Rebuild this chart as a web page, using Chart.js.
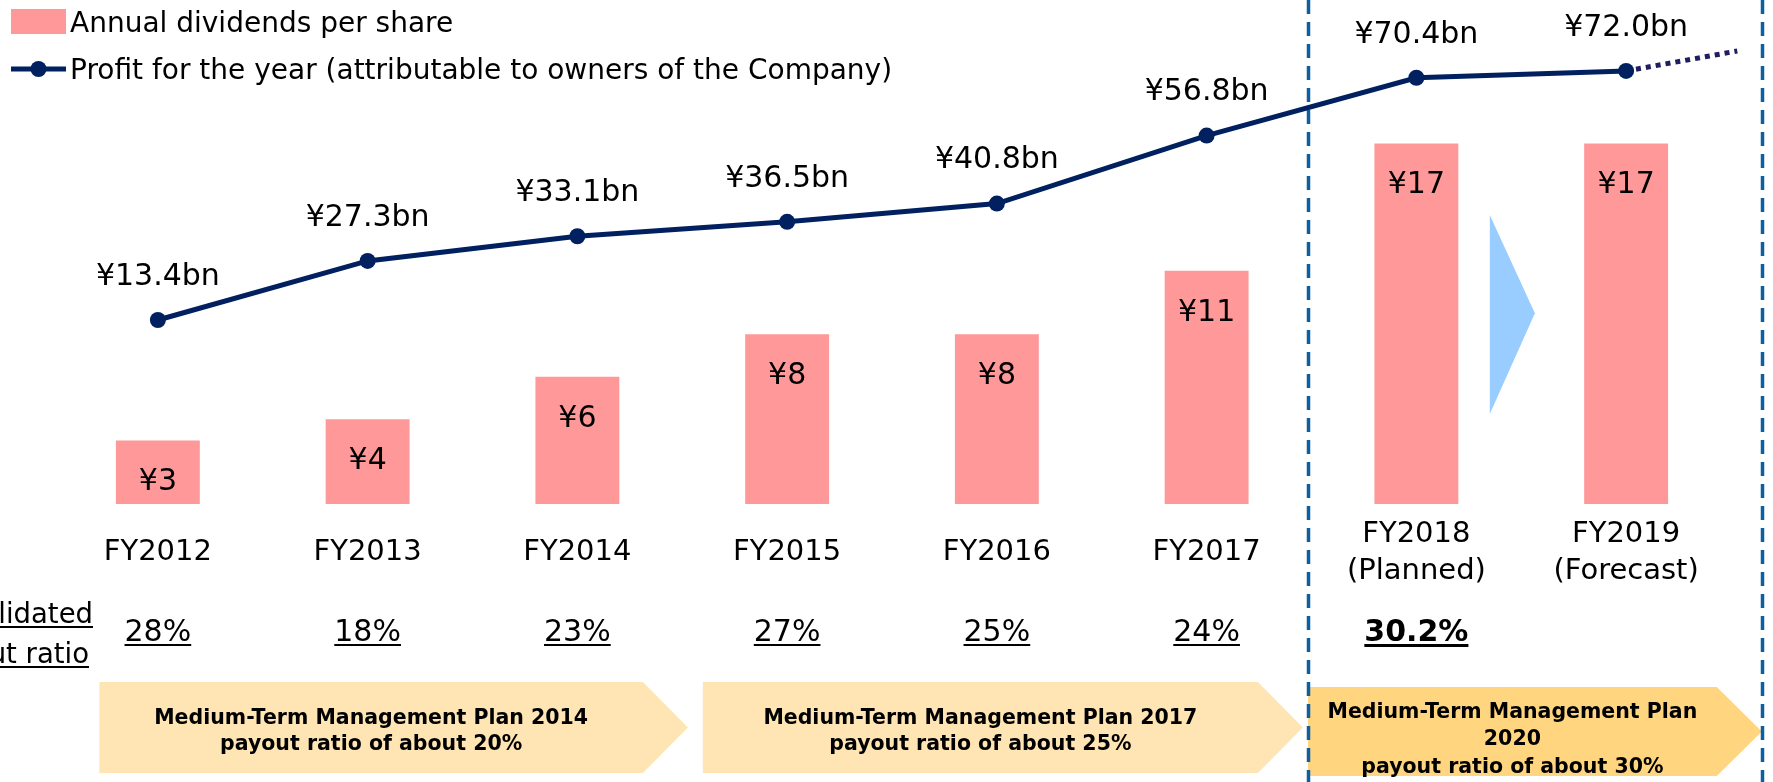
<!DOCTYPE html>
<html>
<head>
<meta charset="utf-8">
<script src="https://cdn.jsdelivr.net/npm/chart.js@4/dist/chart.umd.min.js"></script>
<style>
  html, body { margin: 0; padding: 0; background: #fff; }
  #wrap { width: 1773px; height: 782px; position: relative; }
</style>
</head>
<body>
<div id="wrap"><canvas id="c" width="1773" height="782"></canvas></div>
<script>
// ---- data ----
const categories = ['FY2012', 'FY2013', 'FY2014', 'FY2015', 'FY2016', 'FY2017', ['FY2018', '(Planned)'], ['FY2019', '(Forecast)']];
const dividendsPerShare = [3, 4, 6, 8, 8, 11, 17, 17];
const profitBn = [13.4, 27.3, 33.1, 36.5, 40.8, 56.8, 70.4, 72.0];
const profitTrend = [{ x: 7, y: 72.0 }, { x: 7.53, y: 76.7 }];
const payoutRatios = ['28%', '18%', '23%', '27%', '25%', '24%', '30.2%', null];
const payoutBold = [false, false, false, false, false, false, true, false];
const payoutTitle = ['Consolidated', 'payout ratio'];
const planTexts = [
  ['Medium-Term Management Plan 2014', 'payout ratio of about 20%'],
  ['Medium-Term Management Plan 2017', 'payout ratio of about 25%'],
  ['Medium-Term Management Plan', '2020', 'payout ratio of about 30%']
];
const seriesNames = ['Annual dividends per share', 'Profit for the year (attributable to owners of the Company)'];

// ---- styles ----
const FONT = '"DejaVu Sans", Verdana, sans-serif';
const NAVY = '#002060';
const PINK = '#FF9999';

const planGeom = [
  { from: -0.279, tip: 2.527, top: 682, bottom: 773, color: '#FFE5B3', lh: 26, dy: 4.5 },
  { from: 2.598, tip: 5.459, top: 682, bottom: 773, color: '#FFE5B3', lh: 26, dy: 4.5 },
  { from: 5.483, tip: 7.647, top: 687, bottom: 776, color: '#FFD57F', lh: 27.5, dy: 8.5 }
];

const decorPlugin = {
  id: 'decor',
  beforeDatasetsDraw(chart) {
    const ctx = chart.ctx;
    const xs = chart.scales.xTrend;
    const yd = chart.scales.yDiv;
    ctx.save();
    // plan banners
    planGeom.forEach((g, i) => {
      const l = xs.getPixelForValue(g.from);
      const t = xs.getPixelForValue(g.tip);
      const depth = 45;
      ctx.fillStyle = g.color;
      ctx.beginPath();
      ctx.moveTo(l, g.top);
      ctx.lineTo(t - depth, g.top);
      ctx.lineTo(t, (g.top + g.bottom) / 2);
      ctx.lineTo(t - depth, g.bottom);
      ctx.lineTo(l, g.bottom);
      ctx.closePath();
      ctx.fill();
      const lines = planTexts[i];
      ctx.fillStyle = '#000';
      ctx.font = 'bold 20.5px ' + FONT;
      ctx.textAlign = 'center';
      ctx.textBaseline = 'middle';
      const cx = (l + t - depth) / 2;
      const cy = (g.top + g.bottom) / 2 + g.dy;
      lines.forEach((s, k) => {
        ctx.fillText(s, cx, cy + (k - (lines.length - 1) / 2) * g.lh);
      });
    });
    // dashed separators
    ctx.strokeStyle = '#0C60A2';
    ctx.lineWidth = 3.5;
    ctx.setLineDash([14, 8]);
    [5.483, 7.647].forEach(v => {
      const x = Math.round(xs.getPixelForValue(v)) + 0.5;
      ctx.beginPath();
      ctx.moveTo(x, 0);
      ctx.lineTo(x, 782);
      ctx.stroke();
    });
    ctx.setLineDash([]);
    // blue arrow triangle between FY2018 and FY2019
    ctx.fillStyle = '#99CCFF';
    ctx.beginPath();
    ctx.moveTo(xs.getPixelForValue(6.35), yd.getPixelForValue(13.63));
    ctx.lineTo(xs.getPixelForValue(6.565), yd.getPixelForValue(9.0));
    ctx.lineTo(xs.getPixelForValue(6.35), yd.getPixelForValue(4.25));
    ctx.closePath();
    ctx.fill();
    // payout ratio row
    const x = chart.scales.x;
    ctx.textBaseline = 'alphabetic';
    payoutRatios.forEach((s, i) => {
      if (!s) return;
      const px = x.getPixelForValue(i);
      ctx.font = (payoutBold[i] ? 'bold ' : '') + '30px ' + FONT;
      ctx.textAlign = 'center';
      ctx.fillStyle = '#000';
      ctx.fillText(s, px, 641);
      const w = ctx.measureText(s).width;
      ctx.fillRect(px - w / 2, 644, w, payoutBold[i] ? 3 : 2);
    });
    ctx.font = '27.5px ' + FONT;
    ctx.textAlign = 'right';
    [[payoutTitle[0], 623, 93], [payoutTitle[1], 663, 89]].forEach(([s, by, rx]) => {
      ctx.fillText(s, rx, by);
      const w = ctx.measureText(s).width;
      ctx.fillRect(rx - w, by + 3, w, 2);
    });
    // legend
    ctx.fillStyle = PINK;
    ctx.fillRect(11, 9, 55, 25);
    ctx.strokeStyle = NAVY;
    ctx.lineWidth = 5;
    ctx.beginPath();
    ctx.moveTo(11, 69);
    ctx.lineTo(66, 69);
    ctx.stroke();
    ctx.fillStyle = NAVY;
    ctx.beginPath();
    ctx.arc(38.5, 69, 8, 0, Math.PI * 2);
    ctx.fill();
    ctx.fillStyle = '#000';
    ctx.font = '28px ' + FONT;
    ctx.textAlign = 'left';
    ctx.textBaseline = 'middle';
    ctx.fillText(seriesNames[0], 70, 25);
    ctx.fillText(seriesNames[1], 70, 72);
    ctx.restore();
  },
  afterDatasetsDraw(chart) {
    const ctx = chart.ctx;
    ctx.save();
    ctx.fillStyle = '#000';
    ctx.font = '30px ' + FONT;
    ctx.textAlign = 'center';
    ctx.textBaseline = 'middle';
    chart.getDatasetMeta(0).data.forEach((el, i) => {
      ctx.fillText('¥' + dividendsPerShare[i], el.x, el.y + 42);
    });
    chart.getDatasetMeta(1).data.forEach((el, i) => {
      ctx.fillText('¥' + profitBn[i].toFixed(1) + 'bn', el.x, el.y - 43);
    });
    ctx.restore();
  }
};

new Chart(document.getElementById('c'), {
  type: 'bar',
  data: {
    labels: categories,
    datasets: [
      {
        type: 'bar',
        label: seriesNames[0],
        data: dividendsPerShare,
        backgroundColor: PINK,
        borderWidth: 0,
        grouped: false,
        barPercentage: 0.4,
        categoryPercentage: 1,
        xAxisID: 'x',
        yAxisID: 'yDiv',
        order: 3
      },
      {
        type: 'line',
        label: seriesNames[1],
        data: profitBn,
        borderColor: NAVY,
        backgroundColor: NAVY,
        borderWidth: 5,
        pointRadius: 8,
        pointHoverRadius: 8,
        pointBorderWidth: 0,
        pointBackgroundColor: NAVY,
        tension: 0,
        xAxisID: 'x',
        yAxisID: 'yProfit',
        order: 1
      },
      {
        type: 'line',
        label: 'trend',
        data: profitTrend,
        borderColor: '#1F1F5F',
        borderWidth: 5,
        borderDash: [5, 5],
        pointRadius: 0,
        clip: false,
        xAxisID: 'xTrend',
        yAxisID: 'yProfit',
        order: 2
      }
    ]
  },
  options: {
    responsive: false,
    animation: false,
    devicePixelRatio: 1,
    layout: { autoPadding: false, padding: { left: 53, right: 42, top: 0, bottom: 195 } },
    plugins: { legend: { display: false }, tooltip: { enabled: false } },
    scales: {
      x: {
        type: 'category',
        offset: true,
        grid: { display: false, drawTicks: false },
        border: { display: false },
        ticks: {
          color: '#000',
          font: { family: FONT, size: 29, lineHeight: 1.28 },
          padding: 30,
          maxRotation: 0,
          autoSkip: false,
          crossAlign: 'center'
        },
        afterFit: s => { s.height = 83; }
      },
      xTrend: { type: 'linear', display: false, offset: false, grid: { offset: false }, min: -0.5, max: 7.5 },
      yDiv: { display: false, min: 0, max: 23.77 },
      yProfit: { display: false, min: -29.9, max: 88.7 }
    }
  },
  plugins: [decorPlugin]
});
</script>
</body>
</html>
